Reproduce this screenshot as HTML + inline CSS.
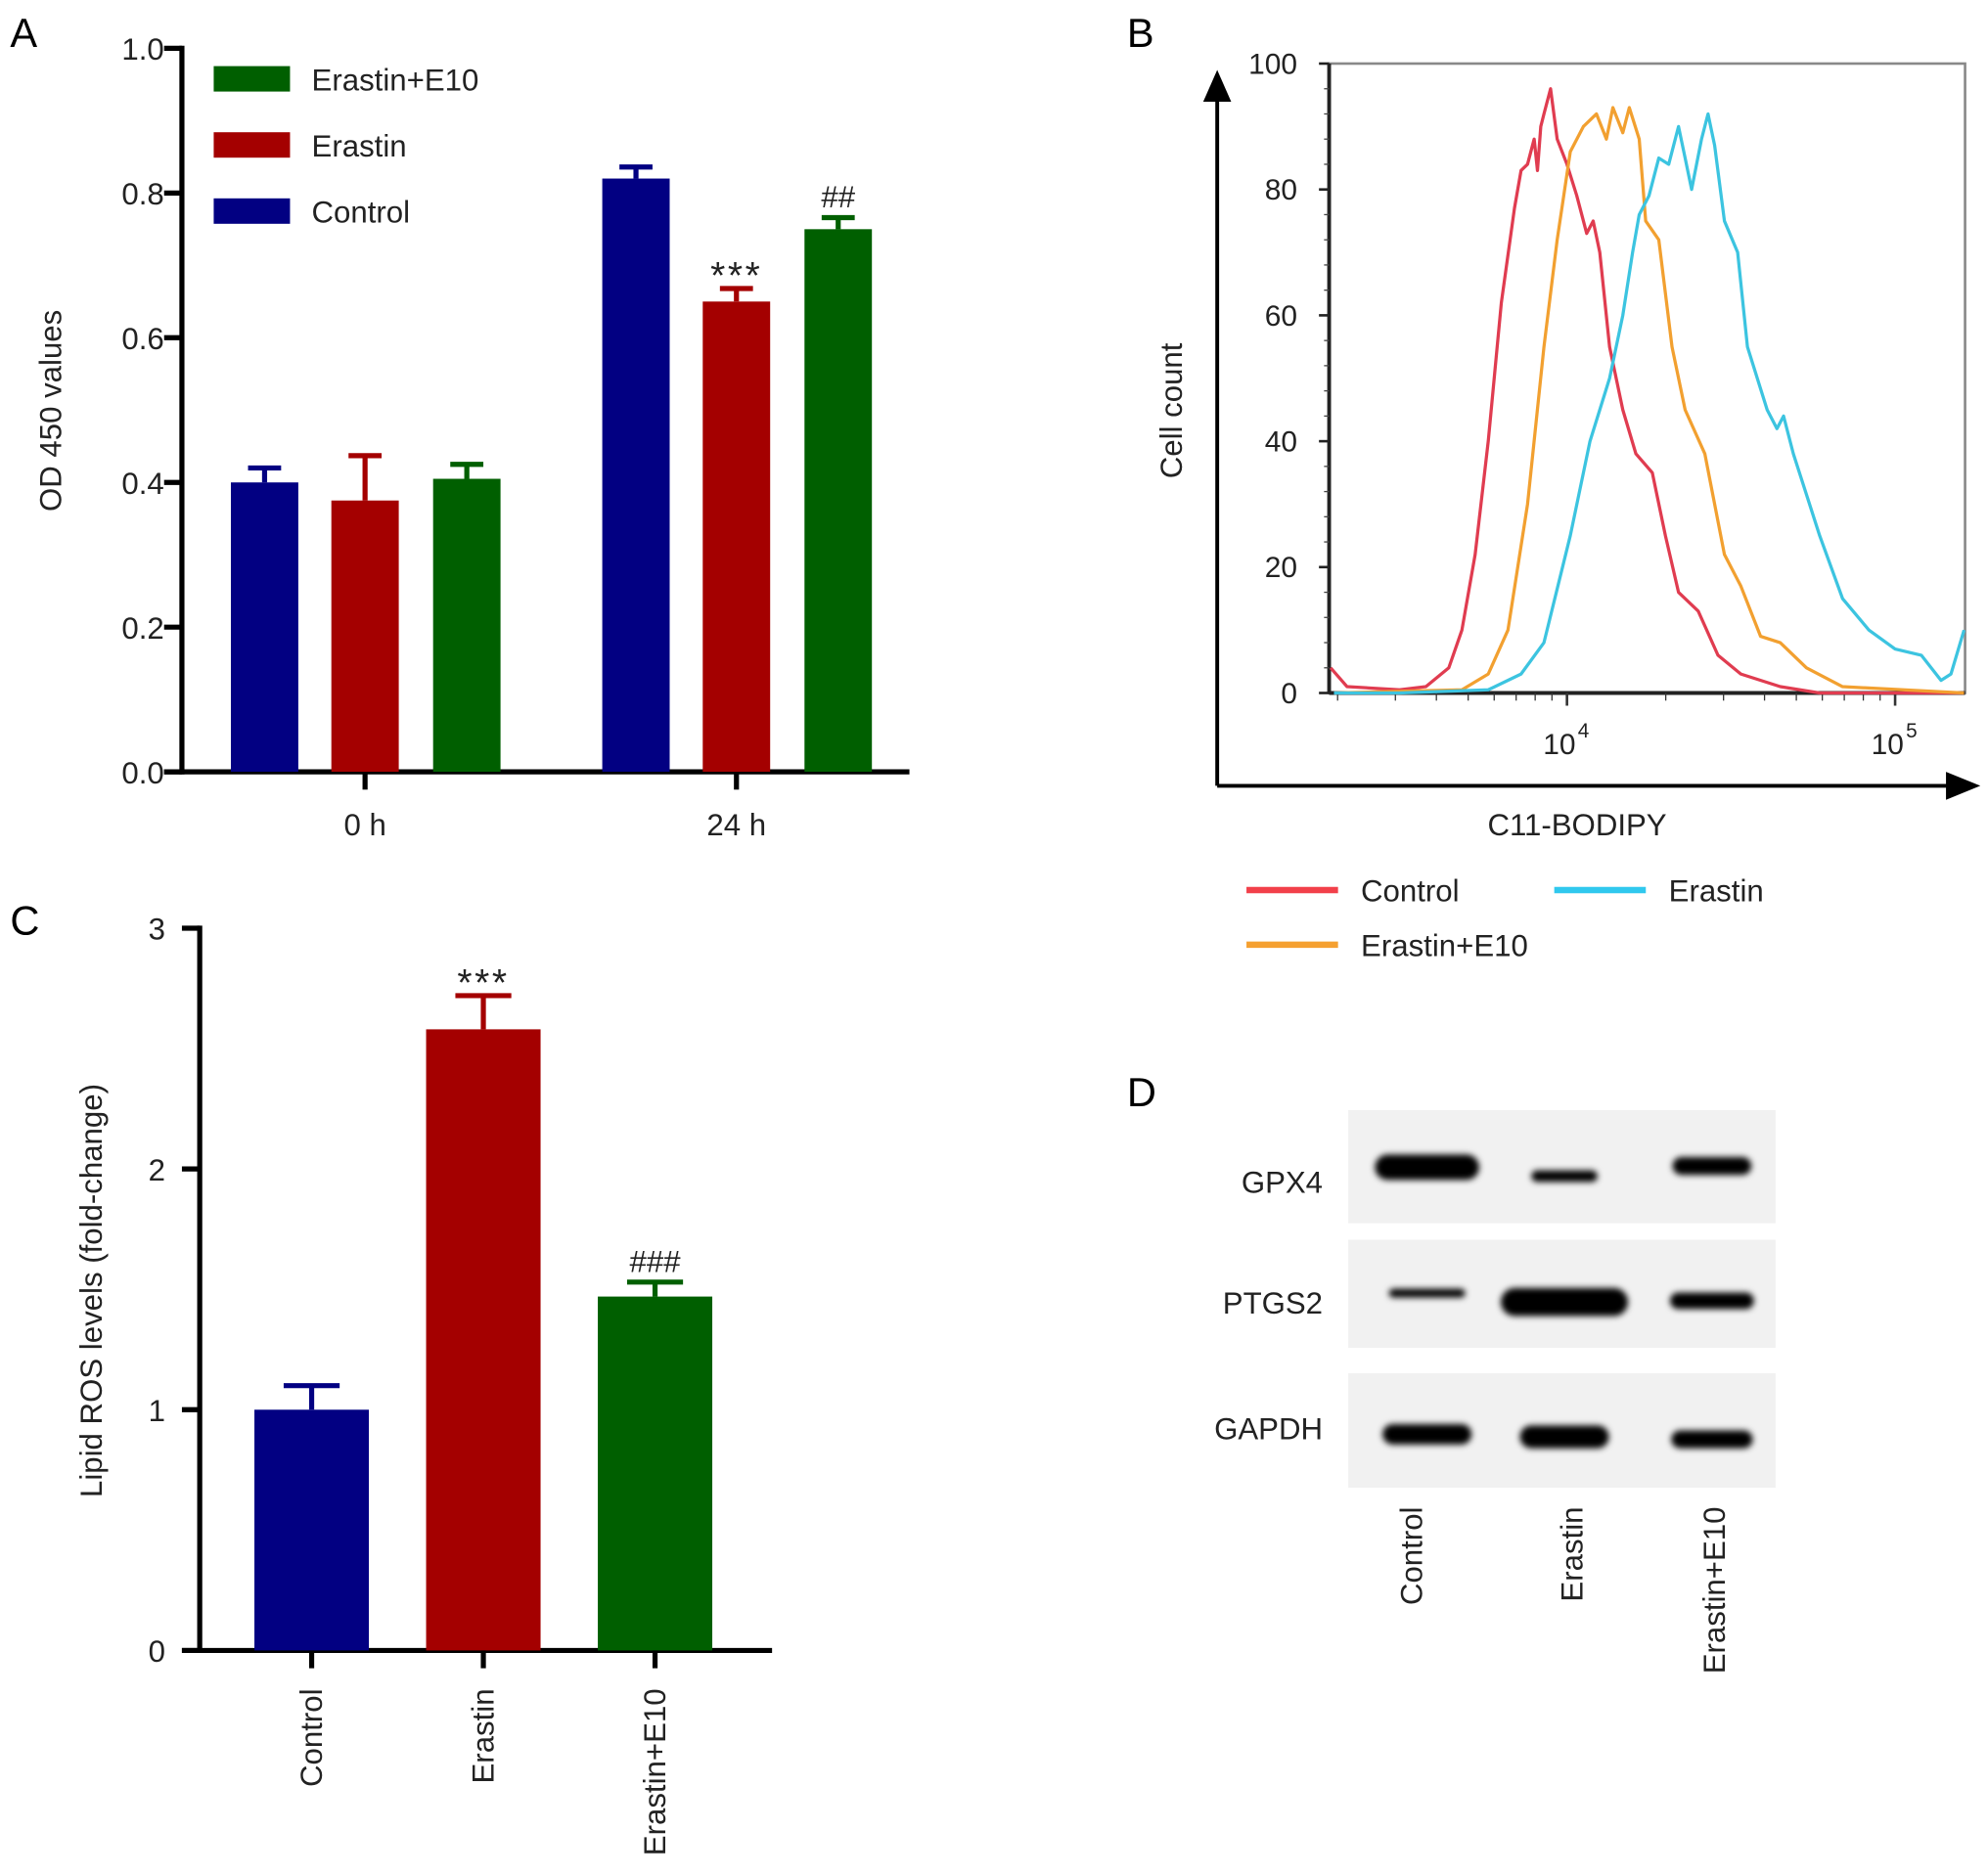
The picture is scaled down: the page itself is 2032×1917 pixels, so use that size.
<!DOCTYPE html>
<html><head><meta charset="utf-8"><style>
html,body{margin:0;padding:0;background:#fff}
svg{display:block;font-family:"Liberation Sans",Arial,sans-serif}
</style></head><body>
<svg id="fig" width="2032" height="1917" viewBox="0 0 1563 1474.6" xmlns="http://www.w3.org/2000/svg">
<defs>
<filter id="blur" x="-50%" y="-100%" width="200%" height="300%"><feGaussianBlur stdDeviation="2.5"/></filter>
</defs>
<g id="A"></g>
<g id="B"></g>
<g id="C"></g>
<g id="D"></g>
</svg>
<script>
// ---- Panel A data ----
const aGroups = ["0 h", "24 h"];
const aSeries = ["Control", "Erastin", "Erastin+E10"];
const aControl = [0.40, 0.82];
const aErastin = [0.375, 0.65];
const aE10 = [0.405, 0.75];
const aControlErr = [0.02, 0.016];
const aErastinErr = [0.062, 0.018];
const aE10Err = [0.02, 0.016];
const aTicks = ["0.0", "0.2", "0.4", "0.6", "0.8", "1.0"];
const aAnnot = ["", "", "", "", "***", "##"];
// ---- Panel B data (x = log10 fluorescence, y = cell count) ----
const bControlX = [3.28,3.33,3.49,3.57,3.64,3.68,3.72,3.76,3.80,3.84,3.86,3.88,3.90,3.91,3.92,3.93,3.95,3.97,4.00,4.03,4.06,4.08,4.10,4.13,4.17,4.21,4.26,4.30,4.34,4.40,4.46,4.53,4.65,4.77,5.21];
const bControlY = [4,1,0.5,1,4,10,22,40,62,77,83,84,88,83,90,92,96,88,84,79,73,75,70,55,45,38,35,25,16,13,6,3,1,0,0];
const bE10X = [3.29,3.68,3.76,3.82,3.88,3.93,3.97,4.01,4.05,4.09,4.12,4.14,4.17,4.19,4.22,4.24,4.28,4.32,4.36,4.42,4.48,4.53,4.59,4.65,4.73,4.84,5.21];
const bE10Y = [0,0.5,3,10,30,55,72,86,90,92,88,93,89,93,88,75,72,55,45,38,22,17,9,8,4,1,0];
const bErastinX = [3.29,3.49,3.76,3.86,3.93,4.01,4.07,4.13,4.17,4.20,4.22,4.25,4.28,4.31,4.34,4.36,4.38,4.41,4.43,4.45,4.48,4.52,4.55,4.61,4.64,4.66,4.69,4.77,4.84,4.92,5.00,5.08,5.14,5.17,5.21];
const bErastinY = [0,0,0.5,3,8,25,40,50,60,70,76,79,85,84,90,85,80,88,92,87,75,70,55,45,42,44,38,25,15,10,7,6,2,3,10];
const bYTicks = [0, 20, 40, 60, 80, 100];
// ---- Panel C data ----
const cCategories = ["Control", "Erastin", "Erastin+E10"];
const cValues = [1.0, 2.58, 1.47];
const cErr = [0.1, 0.14, 0.06];
const cTicks = ["0", "1", "2", "3"];
const cAnnot = ["", "***", "###"];
// ---- Panel D data (band width/height) ----
const dProteins = ["GPX4", "PTGS2", "GAPDH"];
const dLanes = ["Control", "Erastin", "Erastin+E10"];
const dBandW = [[82,52,62],[60,100,66],[70,70,64]];
const dBandH = [[20,9,14],[7,22,13],[16,18,14]];

const NS = "http://www.w3.org/2000/svg";
function mk(parent, tag, attrs, text) {
  const e = document.createElementNS(NS, tag);
  for (const k in attrs) e.setAttribute(k, attrs[k]);
  if (text !== undefined) e.textContent = text;
  parent.appendChild(e);
  return e;
}
const colors = ["#020082", "#a40000", "#005f00"];
const FS = 24;

// ===== Panel A =====
(function(){
  const g = document.getElementById("A");
  const x0 = 143, yTop = 38, yBot = 607;
  const ya = v => yBot - v * (yBot - yTop);
  let t = mk(g, "text", {x: 8, y: 37, "font-size": 32}, "A");
  
  
  aTicks.forEach((lab, i) => {
    const v = parseFloat(lab);
    let l = mk(g, "line", {x1: x0-14, x2: x0, y1: ya(v), y2: ya(v), stroke: "#000", "stroke-width": 4});
    
    
    let tx = mk(g, "text", {x: 129, y: ya(v)+9, "font-size": FS, "text-anchor": "end", fill: "#222"}, lab);
    
    
  });
  let ax = mk(g, "line", {x1: x0, x2: x0, y1: yTop-2, y2: yBot+2, stroke: "#000", "stroke-width": 4});
  
  
  let xx = mk(g, "line", {x1: x0-14, x2: 715, y1: yBot, y2: yBot, stroke: "#000", "stroke-width": 4});
  
  
  let yt = mk(g, "text", {x: 0, y: 0, "font-size": FS, "text-anchor": "middle", transform: "translate(48,323) rotate(-90)", fill: "#222"}, "OD 450 values");
  
  
  const groupCenter = [287, 579];
  const offsets = [-79, 0, 80];
  const bw = 53;
  const vals = [aControl, aErastin, aE10];
  const errs = [aControlErr, aErastinErr, aE10Err];
  aGroups.forEach((gn, gi) => {
    const cx = groupCenter[gi];
    let tk = mk(g, "line", {x1: cx, x2: cx, y1: yBot, y2: yBot+14, stroke: "#000", "stroke-width": 4});
    
    
    let lb = mk(g, "text", {x: cx, y: 657, "font-size": FS, "text-anchor": "middle", fill: "#222"}, gn);
    
    
    for (let s = 0; s < 3; s++) {
      const bx = cx + offsets[s] - bw/2;
      const v = vals[s][gi], e = errs[s][gi];
      let r = mk(g, "rect", {x: bx, y: ya(v), width: bw, height: yBot - ya(v), fill: colors[s]});
      
      
      const bc = cx + offsets[s];
      let el = mk(g, "path", {d: `M${bc} ${ya(v)} V${ya(v+e)} M${bc-13} ${ya(v+e)} H${bc+13}`, stroke: colors[s], "stroke-width": 4, fill: "none"});
      
      
      const an = aAnnot[gi*3+s];
      if (an) {
        const star = an.indexOf('*') >= 0;
        let at = mk(g, "text", {x: bc, y: ya(v+e)-(star ? 0 : 8), "font-size": star ? 30 : 24, "letter-spacing": star ? 2 : 0, "text-anchor": "middle", fill: "#222"}, an);
        
        
      }
    }
  });
  const legOrder = [2, 1, 0];
  legOrder.forEach((s, i) => {
    let r = mk(g, "rect", {x: 168, y: 52 + i*52, width: 60, height: 20, fill: colors[s]});
    
    
    let tx = mk(g, "text", {x: 245, y: 71 + i*52, "font-size": FS, fill: "#222"}, aSeries[s]);
    
    
  });
})();

// ===== Panel B =====
(function(){
  const g = document.getElementById("B");
  const L = 1045, R = 1545, T = 50, Bt = 545;
  const xb = lv => 1232 + (lv - 4) * 258;
  const yb = v => Bt - v * (Bt - T) / 100;
  let t = mk(g, "text", {x: 886, y: 37, "font-size": 32}, "B");
  
  
  let box = mk(g, "rect", {x: L, y: T, width: R-L, height: Bt-T, fill: "none", stroke: "#888", "stroke-width": 2});
  
  
  let lax = mk(g, "line", {x1: L, x2: L, y1: T, y2: Bt, stroke: "#222", "stroke-width": 3});
  
  
  let bax = mk(g, "line", {x1: L, x2: R, y1: Bt, y2: Bt, stroke: "#222", "stroke-width": 3});
  
  
  bYTicks.forEach(v => {
    let l = mk(g, "line", {x1: L-8, x2: L, y1: yb(v), y2: yb(v), stroke: "#222", "stroke-width": 2});
    
    
    let tx = mk(g, "text", {x: 1020, y: yb(v)+8, "font-size": 23, "text-anchor": "end", fill: "#222"}, String(v));
    
    
  });
  for (let v = 4; v < 100; v += 4) {
    if (v % 20 === 0) continue;
    let l = mk(g, "line", {x1: L-4, x2: L, y1: yb(v), y2: yb(v), stroke: "#444", "stroke-width": 1});
    
    
  }
  for (let d = 3; d <= 5; d++) {
    for (let m = 1; m <= 9; m++) {
      const lv = d + Math.log10(m);
      const px = xb(lv);
      if (px < L || px > R) continue;
      let l = mk(g, "line", {x1: px, x2: px, y1: Bt, y2: Bt + (m === 1 ? 10 : 6), stroke: "#333", "stroke-width": m === 1 ? 2 : 1});
      
      
    }
  }
  [4, 5].forEach(d => {
    let tx = mk(g, "text", {x: xb(d) - 6, y: 593, "font-size": 23, "text-anchor": "middle", fill: "#222"}, "10");
    
    
    let sp = mk(g, "text", {x: xb(d) + 13, y: 580, "font-size": 16, "text-anchor": "middle", fill: "#222"}, String(d));
    
    
  });
  let va = mk(g, "path", {d: "M957 618 V70", stroke: "#000", "stroke-width": 3, fill: "none"});
  
  
  let vh = mk(g, "path", {d: "M946 80 L957 55 L968 80 Z", fill: "#000"});
  
  
  let ha = mk(g, "path", {d: "M957 618 H1535", stroke: "#000", "stroke-width": 3, fill: "none"});
  
  
  let hh = mk(g, "path", {d: "M1530 607 L1557 618 L1530 629 Z", fill: "#000"});
  
  
  let xt = mk(g, "text", {x: 1240, y: 657, "font-size": FS, "text-anchor": "middle", fill: "#222"}, "C11-BODIPY");
  
  
  let yt = mk(g, "text", {x: 0, y: 0, "font-size": FS, "text-anchor": "middle", transform: "translate(929,323) rotate(-90)", fill: "#222"}, "Cell count");
  
  
  const series = [
    {n: "control", xs: bControlX, ys: bControlY, c: "#e03c50"},
    {n: "erastin-e10", xs: bE10X, ys: bE10Y, c: "#f2a030"},
    {n: "erastin", xs: bErastinX, ys: bErastinY, c: "#3cc4e0"}
  ];
  series.forEach(s => {
    const d = s.xs.map((lv, i) => (i ? "L" : "M") + xb(lv).toFixed(1) + " " + yb(s.ys[i]).toFixed(1)).join(" ");
    let p = mk(g, "path", {d: d, stroke: s.c, "stroke-width": 2.5, fill: "none", "stroke-linejoin": "round"});
    
    
  });
  const leg = [
    {t: "Control", c: "#f2404a", x: 980, y: 700},
    {t: "Erastin", c: "#30c8ee", x: 1222, y: 700},
    {t: "Erastin+E10", c: "#f5a030", x: 980, y: 743}
  ];
  leg.forEach(l => {
    let ln = mk(g, "line", {x1: l.x, x2: l.x + 72, y1: l.y, y2: l.y, stroke: l.c, "stroke-width": 5});
    
    
    let tx = mk(g, "text", {x: l.x + 90, y: l.y + 9, "font-size": FS, fill: "#222"}, l.t);
    
    
  });
})();

// ===== Panel C =====
(function(){
  const g = document.getElementById("C");
  const x0 = 157, yTop = 730, yBot = 1298;
  const yc = v => yBot - v * (yBot - yTop) / 3;
  let t = mk(g, "text", {x: 8, y: 735, "font-size": 32}, "C");
  
  
  cTicks.forEach(lab => {
    const v = parseFloat(lab);
    let l = mk(g, "line", {x1: x0-14, x2: x0, y1: yc(v), y2: yc(v), stroke: "#000", "stroke-width": 4});
    
    
    let tx = mk(g, "text", {x: 130, y: yc(v)+9, "font-size": FS, "text-anchor": "end", fill: "#222"}, lab);
    
    
  });
  let ax = mk(g, "line", {x1: x0, x2: x0, y1: yTop-2, y2: yBot+2, stroke: "#000", "stroke-width": 4});
  
  
  let xx = mk(g, "line", {x1: x0-14, x2: 607, y1: yBot, y2: yBot, stroke: "#000", "stroke-width": 4});
  
  
  let yt = mk(g, "text", {x: 0, y: 0, "font-size": FS, "text-anchor": "middle", transform: "translate(80,1015) rotate(-90)", fill: "#222"}, "Lipid ROS levels (fold-change)");
  
  
  const step = 135, first = 245, bw = 90;
  cCategories.forEach((cat, i) => {
    const cx = first + i * step;
    const v = cValues[i], e = cErr[i];
    let r = mk(g, "rect", {x: cx - bw/2, y: yc(v), width: bw, height: yBot - yc(v), fill: colors[i]});
    
    
    let el = mk(g, "path", {d: `M${cx} ${yc(v)} V${yc(v+e)} M${cx-22} ${yc(v+e)} H${cx+22}`, stroke: colors[i], "stroke-width": 4, fill: "none"});
    
    
    let tk = mk(g, "line", {x1: cx, x2: cx, y1: yBot, y2: yBot+14, stroke: "#000", "stroke-width": 4});
    
    
    let lb = mk(g, "text", {x: 0, y: 0, "font-size": FS, "text-anchor": "end", transform: `translate(${cx+8},1328) rotate(-90)`, fill: "#222"}, cat);
    
    
    if (cAnnot[i]) {
      const star = cAnnot[i].indexOf('*') >= 0;
      let at = mk(g, "text", {x: cx, y: yc(v+e)-(star ? 0 : 8), "font-size": star ? 30 : 24, "letter-spacing": star ? 2 : 0, "text-anchor": "middle", fill: "#222"}, cAnnot[i]);
      
      
    }
  });
})();

// ===== Panel D =====
(function(){
  const g = document.getElementById("D");
  let t = mk(g, "text", {x: 886, y: 870, "font-size": 32}, "D");
  
  
  const rowTop = [873, 975, 1080], rowH = [89, 85, 90];
  const rowCy = [[918,925,917],[1017,1024,1023],[1128,1130,1132]];
  const laneX = [1122, 1230, 1346];
  const labY = [938, 1033, 1132];
  dProteins.forEach((p, r) => {
    let bg = mk(g, "rect", {x: 1060, y: rowTop[r], width: 336, height: rowH[r], fill: "#f1f1f1"});
    
    
    let lb = mk(g, "text", {x: 1040, y: labY[r], "font-size": FS, "text-anchor": "end", fill: "#222"}, p);
    
    
    dLanes.forEach((ln, c) => {
      let e = mk(g, "rect", {x: laneX[c] - dBandW[r][c]/2, y: rowCy[r][c] - dBandH[r][c]/2, width: dBandW[r][c], height: dBandH[r][c], rx: dBandH[r][c]/2, fill: "#000", filter: "url(#blur)"});
      
      
    });
  });
  const lx = [1118, 1244, 1356];
  dLanes.forEach((ln, c) => {
    let lb = mk(g, "text", {x: 0, y: 0, "font-size": FS, "text-anchor": "end", transform: `translate(${lx[c]},1185) rotate(-90)`, fill: "#222"}, ln);
    
    
  });
})();
</script>
</body></html>
